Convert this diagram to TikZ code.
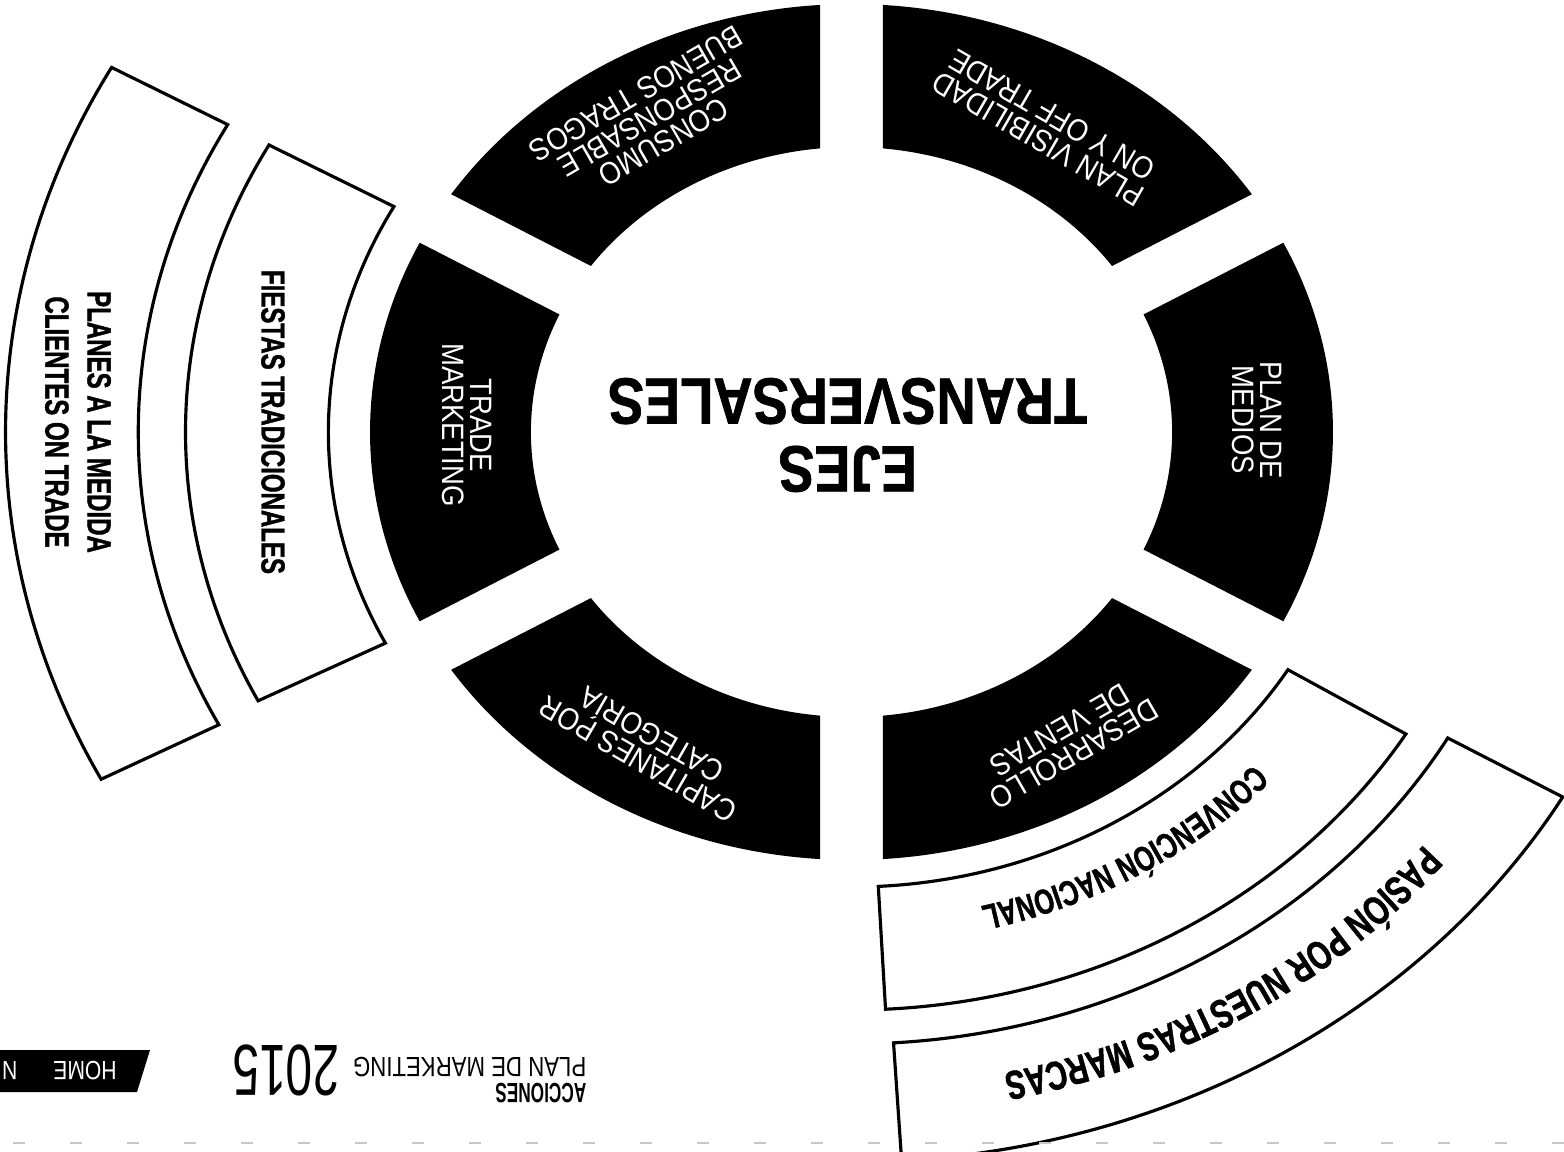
\documentclass[tikz,border=0pt]{standalone}
\usepackage{fontspec}
\setmainfont{Liberation Sans}
\newfontfamily\segfont[FakeStretch=0.89]{Liberation Sans}
\newfontfamily\bandfont[FakeStretch=0.72, FakeBold=1.2]{Liberation Sans}
\newfontfamily\titlefont[FakeStretch=0.83, FakeBold=1]{Liberation Sans}
\newfontfamily\footfont[FakeStretch=0.8]{Liberation Sans}
\newfontfamily\accfont[FakeStretch=0.62]{Liberation Sans}
\newfontfamily\yearfont[FakeStretch=0.66]{Liberation Sans}
\usetikzlibrary{decorations.text}

\newcommand{\rx}{1.125}  % horizontal stretch of the wheel
\newcommand{\gap}{0.28}  % half width of the cuts between black sectors

\tikzset{
  segtext/.style={text=white, inner sep=0pt, align=center,
    font=\segfont\fontsize{8.8}{7.9}\selectfont},
  bandtext/.style={inner sep=0pt, align=center,
    font=\bandfont\bfseries\fontsize{9.5}{12}\selectfont},
  centertext/.style={inner sep=0pt, align=center,
    font=\titlefont\bfseries\fontsize{18.6}{19.3}\selectfont},
  band/.style={draw=black, line width=0.9pt, fill=white},
}

\begin{document}
\begin{tikzpicture}
\useasboundingbox (0,0) rectangle (15.64,-11.51);
\fill[white] (0,0) rectangle (15.64,-11.51);

% whole sheet is printed upside down
\begin{scope}[rotate around={180:(7.82,-5.755)}, transform shape]

  % wheel: six black sectors + outlined outer bands
  \begin{scope}[shift={(7.125,-7.19)}, xscale=\rx]
    \foreach \angA in {-30,30,...,270} {
      \pgfmathsetmacro{\angB}{\angA+60}
      \pgfmathsetmacro{\inA}{\angA+asin(\gap/2.85)}
      \pgfmathsetmacro{\outA}{\angA+asin(\gap/4.28)}
      \pgfmathsetmacro{\inB}{\angB-asin(\gap/2.85)}
      \pgfmathsetmacro{\outB}{\angB-asin(\gap/4.28)}
      \fill (\outA:4.28) arc[start angle=\outA, end angle=\outB, radius=4.28]
        -- (\inB:2.85) arc[start angle=\inB, end angle=\inA, radius=2.85] -- cycle;
    }
    \foreach \angA/\angB/\rIn/\rOut in {-29/27/4.65/5.92, -29/27.5/6.34/7.52,
        93/148.5/4.55/5.78, 93.5/150/6.12/7.3}
      \draw[band] (\angA:\rOut) arc[start angle=\angA, end angle=\angB, radius=\rOut]
        -- (\angB:\rIn) arc[start angle=\angB, end angle=\angA, radius=\rIn] -- cycle;
  \end{scope}

  % labels
  \begin{scope}[shift={(7.125,-7.19)}]
    \node[centertext] (ejes) at (0.04,0.03) {EJES\\TRANSVERSALES};

    \node[segtext, rotate=90] (trade) at (3.845,-0.07) {TRADE\\MARKETING};
    \node[segtext, rotate=-30] (capitanes) at (2.065,3.15) {CAPITANES POR\\CATEGORÍA};
    \node[segtext, rotate=30] (desarrollo) at (-2.155,3.10) {DESARROLLO\\DE VENTAS};
    \node[segtext, rotate=90] (medios) at (-4.055,-0.12) {PLAN DE\\MEDIOS};
    \node[segtext, rotate=-30] (visibilidad) at (-1.935,-3.05) {PLAN VISIBILIDAD\\ON Y OFF TRADE};
    \node[segtext, rotate=30] (consumo) at (2.015,-3.14) {CONSUMO\\RESPONSABLE\\BUENOS TRAGOS};

    \node[bandtext, rotate=90] (fiestas) at (5.785,-0.10) {FIESTAS TRADICIONALES};
    \node[bandtext, rotate=90] (planes) at (7.735,-0.10) {PLANES A LA MEDIDA\\CLIENTES ON TRADE};

    % curved labels of the upper bands
    \path[decorate, decoration={text along path, text align=center,
        text={|\bandfont\bfseries\fontsize{10}{12}\selectfont|CONVENCIÓN NACIONAL}}]
      plot[domain=148.5:93, samples=60, variable=\t] ({\rx*4.88*cos(\t)}, {4.88*sin(\t)});
    \path[decorate, decoration={text along path, text align=center,
        text={|\bandfont\bfseries\fontsize{11.5}{13}\selectfont|PASIÓN POR NUESTRAS MARCAS}}]
      plot[domain=150:93.5, samples=60, variable=\t] ({\rx*6.55*cos(\t)}, {6.55*sin(\t)});
  \end{scope}

  % page footer
  \draw[black!22, line width=0.6pt, dash pattern=on 0.12cm off 0.45cm] (0,-0.08) -- (15.64,-0.08);
  \node[inner sep=0pt, anchor=base west, font=\accfont\bfseries\fontsize{7.9}{9}\selectfont]
    (acciones) at (9.77,-0.68) {ACCIONES};
  \node[inner sep=0pt, anchor=base west, font=\footfont\fontsize{7.9}{9}\selectfont]
    (plan) at (9.77,-0.94) {PLAN DE MARKETING};
  \node[inner sep=0pt, anchor=base west, font=\yearfont\fontsize{20.6}{22}\selectfont]
    (year) at (12.24,-1.06) {2015};
  \fill (14.14,-1.01) -- (14.27,-0.59) -- (15.8,-0.59) -- (15.8,-1.01) -- cycle;
  \node[text=white, inner sep=0pt, font=\footfont\fontsize{7.5}{9}\selectfont]
    (home) at (14.79,-0.80) {HOME};
  \node[text=white, inner sep=0pt, anchor=east, font=\footfont\fontsize{7.5}{9}\selectfont]
    (menu) at (15.625,-0.80) {N};
\end{scope}
\end{tikzpicture}
\end{document}
